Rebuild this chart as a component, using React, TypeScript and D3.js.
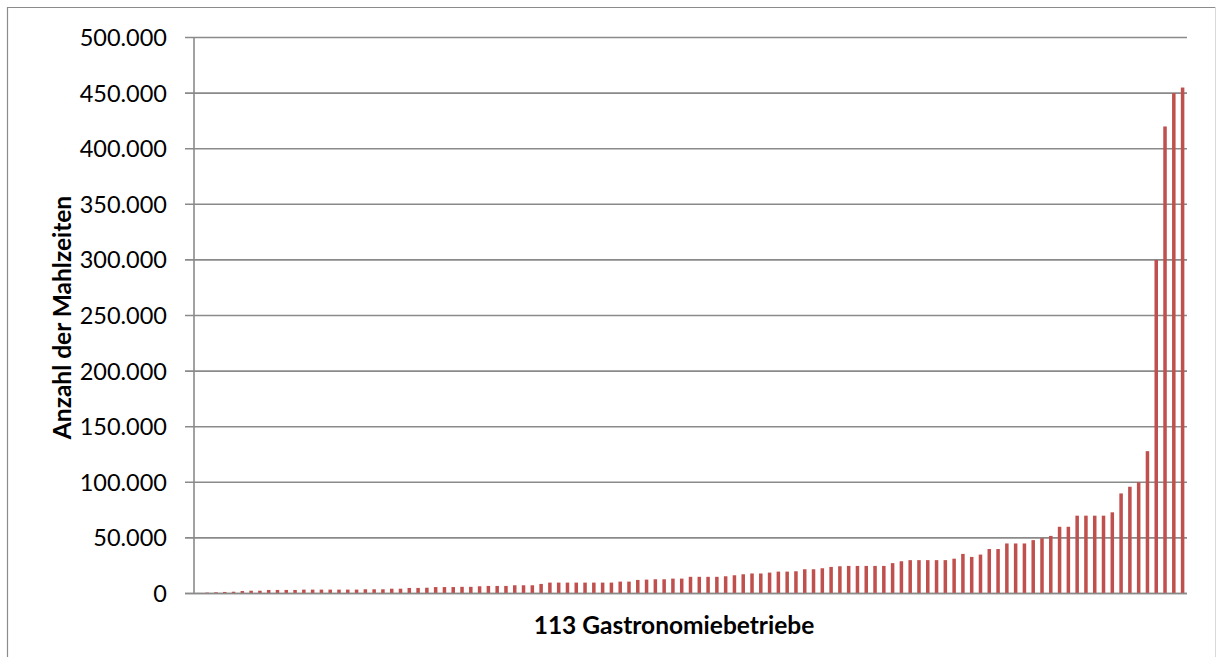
import React from "react";
import * as d3 from "d3";

// Meals served per restaurant, sorted ascending (113 businesses)
const mealCounts: number[] = [
  500, 800, 1100, 1400, 1600, 2200, 2500, 2500, 3200, 3200,
  3200, 3200, 3500, 3500, 3500, 3500, 3500, 3500, 3500, 3800,
  3800, 3800, 4300, 4300, 5000, 5000, 5200, 5800, 5800, 5800,
  6000, 6000, 6500, 6800, 6800, 6800, 7400, 7400, 7400, 8600,
  9800, 9800, 9800, 9800, 9800, 9800, 9800, 9800, 10700, 10700,
  12200, 12500, 12800, 12800, 13400, 13400, 15000, 15000, 15000, 15000,
  15500, 16400, 17300, 18000, 18000, 18800, 19700, 19700, 20000, 21800,
  21800, 22700, 23900, 24500, 24800, 24800, 24800, 24800, 24800, 27300,
  29000, 30000, 30000, 30000, 30000, 30000, 31300, 35600, 32900, 35000,
  40000, 40000, 45000, 45000, 45000, 48000, 49700, 51800, 60000, 60000,
  70000, 70000, 70000, 70000, 73000, 90000, 96000, 100000, 128000, 300000,
  420000, 450000, 455000,
];

const businessIds: number[] = mealCounts.map((_, i) => i + 1);

const yTicks: number[] = [0, 50000, 100000, 150000, 200000, 250000, 300000, 350000, 400000, 450000, 500000];

const xTitle = "113 Gastronomiebetriebe";
const yTitle = "Anzahl der Mahlzeiten";

const W = 1216;
const H = 657;
const plot = { left: 194, right: 1187, top: 37.5, bottom: 593.5 };

const fmt = (v: number) => (v === 0 ? "0" : d3.format(",")(v).replace(/,/g, "."));

export default function App() {
  const x = d3
    .scaleBand<number>()
    .domain(businessIds)
    .range([plot.left, plot.right])
    .paddingInner(0.6)
    .paddingOuter(0.3);
  const y = d3.scaleLinear().domain([0, 500000]).range([plot.bottom, plot.top]);

  const font = "Lato, 'Open Sans', sans-serif";
  const grid = "#8a8a8a";

  return (
    <svg
      width={W}
      height={H}
      style={{ position: "absolute", left: 0, top: 0, background: "#fff" }}
      fontFamily={font}
    >
      <rect x={0} y={0} width={W} height={H} fill="#fff" />
      {/* chart frame */}
      <line x1={7.5} y1={7} x2={7.5} y2={H} stroke="#8c8c8c" strokeWidth={1.2} />
      <line x1={7} y1={7.5} x2={1215.5} y2={7.5} stroke="#8c8c8c" strokeWidth={1.2} />
      <line x1={1215.5} y1={7} x2={1215.5} y2={H} stroke="#d9d9d9" strokeWidth={1} />

      {/* gridlines and y ticks */}
      {yTicks.map((t) => (
        <g key={t}>
          <line
            x1={plot.left - 9}
            x2={plot.right}
            y1={y(t)}
            y2={y(t)}
            stroke={grid}
            strokeWidth={1.6}
          />
          <text
            x={167}
            y={y(t) + 8.5}
            textAnchor="end"
            fontSize={23.5}
            fill="#000"
          >
            {fmt(t)}
          </text>
        </g>
      ))}

      {/* bars */}
      {mealCounts.map((v, i) => (
        <rect
          key={i}
          x={x(businessIds[i])!}
          y={y(v)}
          width={x.bandwidth()}
          height={plot.bottom - y(v)}
          fill="#c0504d"
        />
      ))}

      {/* axes */}
      <line x1={plot.left} x2={plot.left} y1={plot.top} y2={plot.bottom} stroke={grid} strokeWidth={1.6} />
      <line x1={plot.left - 9} x2={plot.right} y1={plot.bottom} y2={plot.bottom} stroke={grid} strokeWidth={1.6} />

      {/* axis titles */}
      <text x={674} y={634} textAnchor="middle" fontWeight="bold" fontSize={24.5} fill="#000">
        {xTitle}
      </text>
      <text
        transform={`translate(71, ${(plot.top + plot.bottom) / 2 + 2}) rotate(-90)`}
        textAnchor="middle"
        fontWeight="bold"
        fontSize={24.5}
        fill="#000"
      >
        {yTitle}
      </text>
    </svg>
  );
}
